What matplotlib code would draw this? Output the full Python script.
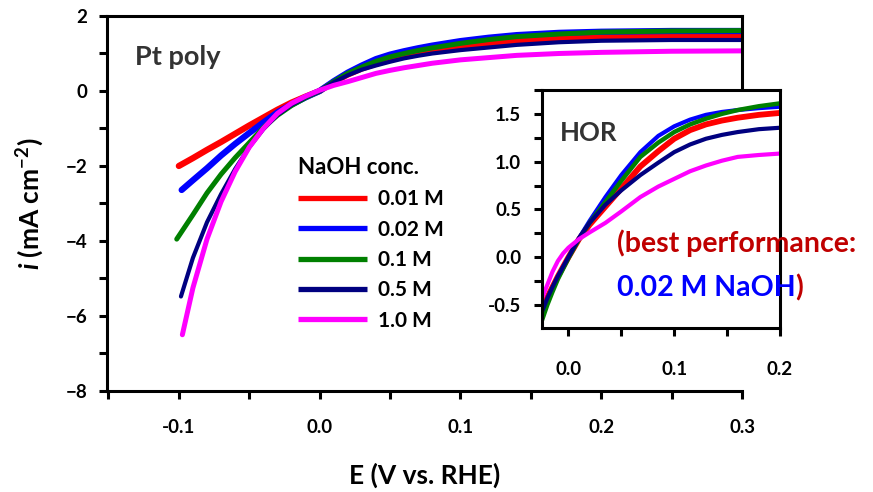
import numpy as np
import matplotlib
matplotlib.use("Agg")
import matplotlib.pyplot as plt
from matplotlib.ticker import MultipleLocator

plt.rcParams['font.family'] = ['Lato', 'DejaVu Sans']
plt.rcParams['font.weight'] = 'bold'
plt.rcParams['axes.labelweight'] = 'bold'
plt.rcParams['mathtext.fontset'] = 'custom'
plt.rcParams['mathtext.it'] = 'Lato:bold:italic'
plt.rcParams['mathtext.rm'] = 'Lato:bold'
plt.rcParams['mathtext.bf'] = 'Lato:bold'

labels = ['0.01 M', '0.02 M', '0.1 M', '0.5 M', '1.0 M']
colors = ['#ff0000', '#0000ff', '#008000', '#000080', '#ff00ff']

# main polarisation curves, E in V vs RHE, i in mA cm-2
e_main = [-0.09, -0.08, -0.07, -0.06, -0.05, -0.04, -0.03, -0.02, -0.01, 0.0,
          0.01, 0.02, 0.03, 0.04, 0.05, 0.06, 0.07, 0.08, 0.10, 0.12, 0.14,
          0.17, 0.20, 0.25, 0.30]
e_start = [-0.1, -0.098, -0.1015, -0.0985, -0.0975]
i_start = [-2.0, -2.64, -3.95, -5.48, -6.5]
i_001 = [-1.79, -1.57, -1.36, -1.14, -0.92, -0.71, -0.5, -0.31, -0.15, 0.0,
         0.24, 0.44, 0.6, 0.73, 0.84, 0.93, 1.0, 1.07, 1.18, 1.27, 1.34,
         1.41, 1.45, 1.48, 1.49]
i_002 = [-2.38, -2.06, -1.72, -1.41, -1.12, -0.84, -0.57, -0.36, -0.17, 0.0,
         0.26, 0.49, 0.68, 0.85, 0.97, 1.06, 1.14, 1.21, 1.33, 1.42, 1.49,
         1.55, 1.58, 1.6, 1.6]
i_01 = [-3.3, -2.72, -2.22, -1.78, -1.38, -0.98, -0.65, -0.39, -0.18, 0.0,
        0.25, 0.47, 0.64, 0.79, 0.91, 1.0, 1.08, 1.15, 1.27, 1.37, 1.45,
        1.52, 1.57, 1.6, 1.61]
i_05 = [-4.45, -3.5, -2.75, -2.08, -1.5, -1.02, -0.64, -0.37, -0.17, 0.0,
        0.23, 0.42, 0.57, 0.68, 0.78, 0.87, 0.94, 1.0, 1.09, 1.16, 1.23,
        1.3, 1.34, 1.36, 1.36]
i_10 = [-5.25, -3.95, -2.95, -2.15, -1.5, -1.0, -0.6, -0.33, -0.14, 0.02,
        0.15, 0.25, 0.36, 0.47, 0.55, 0.62, 0.68, 0.74, 0.83, 0.89, 0.95,
        1.0, 1.03, 1.06, 1.07]

# HOR region (inset)
e_hor = [-0.025, -0.02, -0.015, -0.01, -0.005, 0.0, 0.01, 0.02, 0.035, 0.05,
         0.068, 0.085, 0.10, 0.115, 0.13, 0.145, 0.16, 0.18, 0.20]
h_001 = [-0.55, -0.42, -0.31, -0.2, -0.1, 0.0, 0.19, 0.34, 0.53, 0.72,
         0.95, 1.11, 1.24, 1.33, 1.39, 1.43, 1.46, 1.49, 1.51]
h_002 = [-0.58, -0.44, -0.32, -0.2, -0.1, 0.0, 0.2, 0.38, 0.63, 0.86,
         1.10, 1.27, 1.37, 1.44, 1.49, 1.52, 1.54, 1.56, 1.575]
h_01 = [-0.66, -0.5, -0.36, -0.23, -0.12, -0.01, 0.19, 0.36, 0.58, 0.8,
        1.05, 1.2, 1.31, 1.39, 1.45, 1.5, 1.54, 1.58, 1.61]
h_05 = [-0.57, -0.43, -0.31, -0.2, -0.1, 0.0, 0.2, 0.36, 0.55, 0.70,
        0.86, 0.99, 1.1, 1.18, 1.24, 1.28, 1.31, 1.34, 1.355]
h_10 = [-0.43, -0.29, -0.15, -0.04, 0.04, 0.1, 0.19, 0.26, 0.36, 0.48,
        0.63, 0.74, 0.82, 0.9, 0.96, 1.01, 1.05, 1.07, 1.085]

main_series = [i_001, i_002, i_01, i_05, i_10]
hor_series = [h_001, h_002, h_01, h_05, h_10]
main_lw = [4.5, 4.5, 3.6, 3.0, 3.6]
hor_lw = [4.2, 3.0, 3.2, 3.0, 3.0]

fig = plt.figure(figsize=(8.73, 4.92), dpi=100)
ax = fig.add_axes([0.1226, 0.2053, 0.7274, 0.7622])

for k, ys in enumerate(main_series):
    ax.plot([e_start[k]] + e_main, [i_start[k]] + ys, color=colors[k],
            lw=main_lw[k], solid_capstyle='round', solid_joinstyle='round',
            label=labels[k])

ax.set_xlim(-0.151, 0.3)
ax.set_ylim(-8, 2)
ax.xaxis.set_minor_locator(MultipleLocator(0.05))
ax.yaxis.set_major_locator(MultipleLocator(2))
ax.yaxis.set_minor_locator(MultipleLocator(1))
ax.set_xticks([-0.1, 0.0, 0.1, 0.2, 0.3])
ax.set_xticklabels(['-0.1', '0.0', '0.1', '0.2', '0.3'])
for s in ax.spines.values():
    s.set_linewidth(2.2)
ax.spines['right'].set_bounds(0, 2)
ax.tick_params(which='both', direction='out', length=6, width=2.2, labelsize=13.5)
ax.tick_params(axis='x', pad=14)
ax.tick_params(axis='y', pad=8)
ax.set_xlabel('E (V vs. RHE)', fontsize=19, labelpad=19)
ax.set_ylabel(r'$i$ (mA cm$^{-2}$)', fontsize=19, labelpad=14)
ax.text(0.044, 0.89, 'Pt poly', transform=ax.transAxes, fontsize=19.5,
        color='#333333', va='center')

leg = ax.legend(loc='upper left', bbox_to_anchor=(298 / 873, 1 - 157 / 492),
                bbox_transform=fig.transFigure, frameon=False, borderpad=0,
                borderaxespad=0, handlelength=3.3, handletextpad=0.55,
                labelspacing=0.5, title='NaOH conc.', alignment='left',
                prop={'size': 15, 'weight': 'bold'},
                title_fontproperties={'size': 16, 'weight': 'bold'})
leg._legend_box.sep = 8
for ln in leg.get_lines():
    ln.set_linewidth(3.8)
    ln.set_solid_capstyle('butt')

# inset with the HOR branch
ins = fig.add_axes([0.6208, 0.3333, 0.2727, 0.4838])
ins.set_facecolor('white')
for k, ys in enumerate(hor_series):
    ins.plot(e_hor, ys, color=colors[k], lw=hor_lw[k], solid_capstyle='butt',
             solid_joinstyle='round')
ins.set_xlim(-0.025, 0.2)
ins.set_ylim(-0.74, 1.75)
ins.xaxis.set_minor_locator(MultipleLocator(0.05))
ins.yaxis.set_minor_locator(MultipleLocator(0.25))
ins.set_xticks([0.0, 0.1, 0.2])
ins.set_xticklabels(['0.0', '0.1', '0.2'])
ins.set_yticks([-0.5, 0.0, 0.5, 1.0, 1.5])
ins.set_yticklabels(['-0.5', '0.0', '0.5', '1.0', '1.5'])
for s in ins.spines.values():
    s.set_linewidth(2.2)
ins.tick_params(which='both', direction='out', length=6, width=2.2, labelsize=13.5)
ins.tick_params(axis='x', pad=18)
ins.tick_params(axis='y', pad=9)
ins.text(0.075, 0.82, 'HOR', transform=ins.transAxes, fontsize=18.5,
         color='#333333', va='center')

fig.text(617 / 873, 1 - 243 / 492, '(best performance:', fontsize=20.5,
         color='#c00000', va='center')
t2 = fig.text(617 / 873, 1 - 288 / 492, '0.02 M NaOH', fontsize=20.5,
              color='#0000ff', va='center')
fig.canvas.draw()
bb = t2.get_window_extent()
fig.text(bb.x1 / fig.bbox.width, 1 - 288 / 492, ')', fontsize=20.5,
         color='#c00000', va='center')

fig.savefig('out.png', dpi=100)
